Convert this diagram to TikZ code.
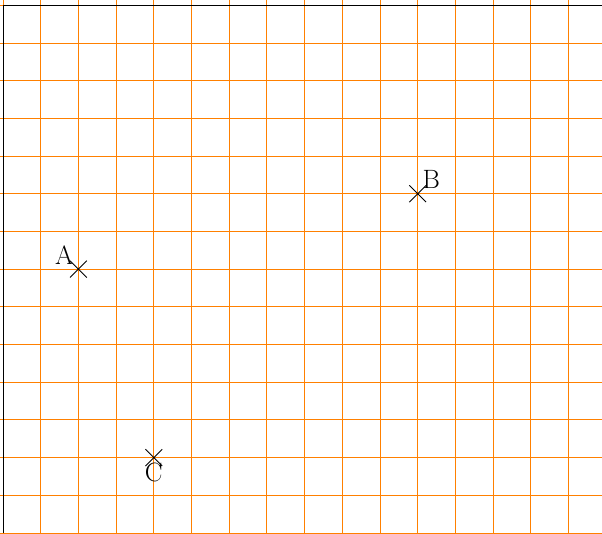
\documentclass[tikz,border=0pt]{standalone}
\usetikzlibrary{shapes.misc}
\begin{document}
\begin{tikzpicture}[x=1cm,y=1cm,
  cross/.style={draw=black,cross out,minimum size=0.42cm,inner sep=0pt,line width=0.7pt},
  lbl/.style={inner sep=3.5pt,font=\fontsize{20}{24}\selectfont}]
\useasboundingbox (-0.08,0.0) rectangle (15.89,14.14);
\draw[orange,line width=0.7pt] (-0.1,0) grid (16,14.2);
\draw[black,line width=0.7pt] (0,0) -- (0,14) -- (16,14);
\node[cross] (A) at (2,7) {};
\node[cross] (B) at (11,9) {};
\node[cross] (C) at (4,2) {};
\node[lbl,anchor=south east] (la) at (A.center) {A};
\node[lbl,anchor=south west] (lb) at (B.center) {B};
\node[lbl,anchor=north] (lc) at (C.center) {C};
\end{tikzpicture}
\end{document}
